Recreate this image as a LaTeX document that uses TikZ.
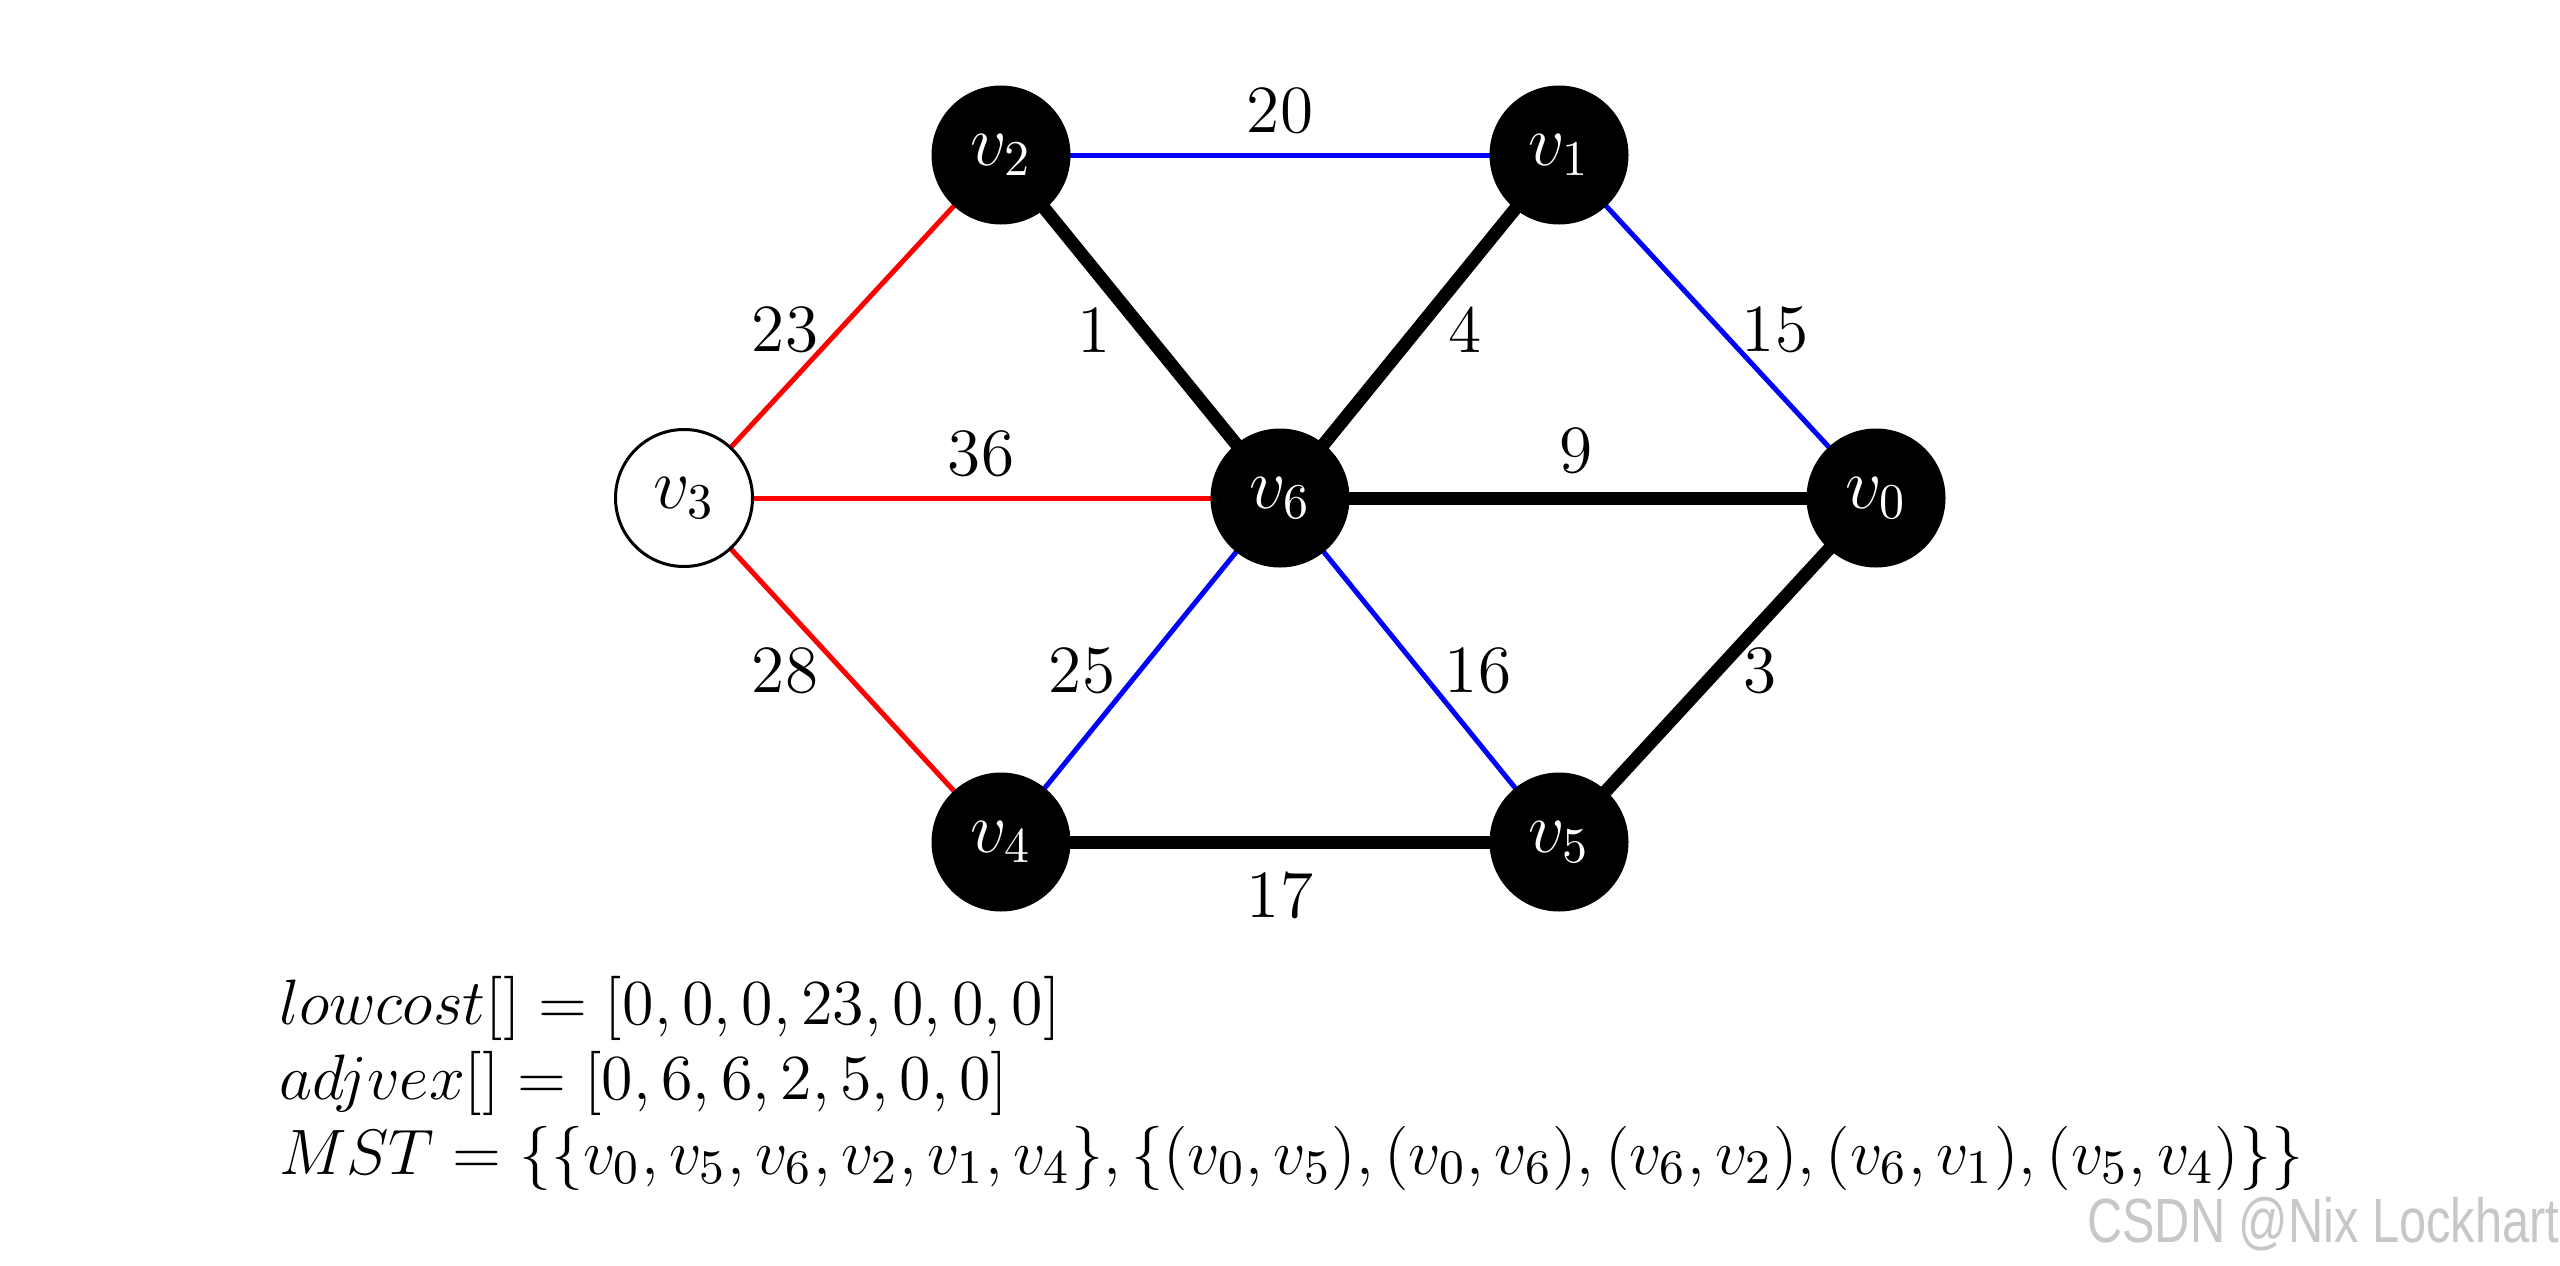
\documentclass[tikz,border=0pt]{standalone}
\usepackage{fontspec}
\newfontfamily\wmfont{Liberation Sans}
\begin{document}
\begin{tikzpicture}[x=0.2pt,y=-0.2pt,
  vtx/.style={circle,fill=black,draw=black,minimum size=27.4pt,inner sep=0pt,text=white,font=\fontsize{14}{17}\selectfont},
  vtxw/.style={circle,fill=white,draw=black,line width=0.6pt,minimum size=27.4pt,inner sep=0pt,text=black,font=\fontsize{14}{17}\selectfont},
  mst/.style={line width=2.6pt,black},
  bl/.style={line width=1pt,blue},
  rd/.style={line width=1pt,red},
  wt/.style={font=\fontsize{13.5}{16}\selectfont,inner sep=0pt},
  txt/.style={anchor=base west,inner sep=0pt,scale=1.07,font=\fontsize{12.7}{15}\selectfont}]
\useasboundingbox[fill=white] (0,0) rectangle (2560,1266);
% edges first (drawn under nodes)
\coordinate (p2) at (1001,155);
\coordinate (p1) at (1559,155);
\coordinate (p3) at (684,498);
\coordinate (p6) at (1280,498);
\coordinate (p0) at (1876,498);
\coordinate (p4) at (1001,842);
\coordinate (p5) at (1559,842);
\draw[bl] (p2) -- (p1);
\draw[bl] (p1) -- (p0);
\draw[bl] (p6) -- (p4);
\draw[bl] (p6) -- (p5);
\draw[rd] (p3) -- (p2);
\draw[rd] (p3) -- (p6);
\draw[rd] (p3) -- (p4);
\draw[mst] (p2) -- (p6);
\draw[mst] (p1) -- (p6);
\draw[mst] (p6) -- (p0);
\draw[mst] (p0) -- (p5);
\draw[mst] (p4) -- (p5);
% vertices
\node[vtx] (v2) at (p2) {$v_2$};
\node[vtx] (v1) at (p1) {$v_1$};
\node[vtxw] (v3) at (p3) {$v_3$};
\node[vtx] (v6) at (p6) {$v_6$};
\node[vtx] (v0) at (p0) {$v_0$};
\node[vtx] (v4) at (p4) {$v_4$};
\node[vtx] (v5) at (p5) {$v_5$};
% weights
\node[wt] (w20) at (1280,111) {20};
\node[wt] (w23) at (785,330) {23};
\node[wt] (w1) at (1094,330) {1};
\node[wt] (w4) at (1465,330) {4};
\node[wt] (w15) at (1775,330) {15};
\node[wt] (w36) at (981,454) {36};
\node[wt] (w9) at (1576,451) {9};
\node[wt] (w28) at (785,671) {28};
\node[wt] (w25) at (1082,671) {25};
\node[wt] (w16) at (1478,671) {16};
\node[wt] (w3) at (1760,671) {3};
\node[wt] (w17) at (1280,895) {17};
% text
\node[txt] (l1) at (278,1024) {$lowcost[]=[0,0,0,23,0,0,0]$};
\node[txt] (l2) at (278,1099) {$adjvex[]=[0,6,6,2,5,0,0]$};
\node[txt] (l3) at (278,1174) {$MST=\{\{v_0,v_5,v_6,v_2,v_1,v_4\},\{(v_0,v_5),(v_0,v_6),(v_6,v_2),(v_6,v_1),(v_5,v_4)\}\}$};
\node[anchor=east,inner sep=0pt,text=black!22,font=\wmfont\fontsize{12.5}{15}\selectfont,xscale=0.78] (wm) at (2560,1224) {CSDN @Nix Lockhart};
\end{tikzpicture}
\end{document}
